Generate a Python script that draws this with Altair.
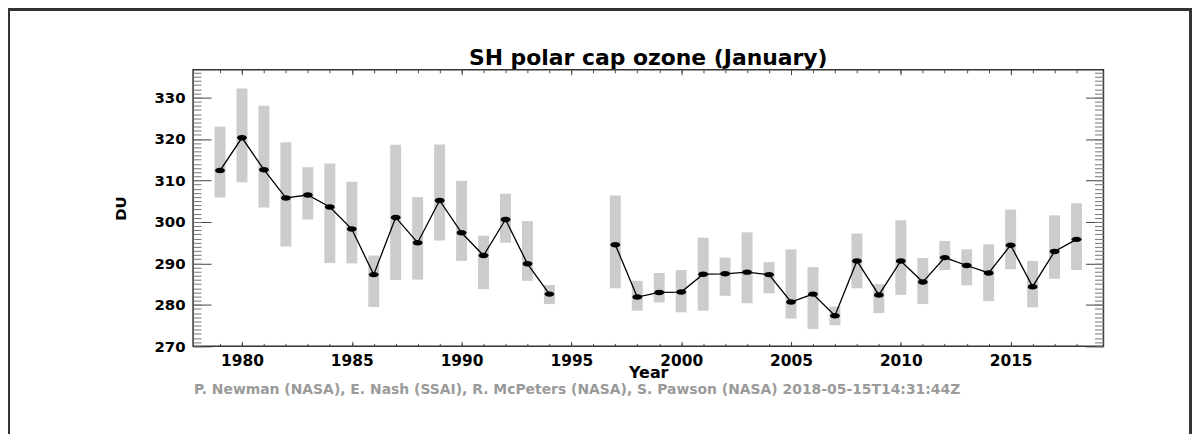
import altair as alt
import pandas as pd

# ---- data ----
years = list(range(1979, 1995)) + list(range(1997, 2019))
mean_du = [312.4, 320.3, 312.6, 305.8, 306.5, 303.6, 298.3, 287.3, 301.1, 295.0,
           305.2, 297.4, 291.9, 300.6, 289.9, 282.6,
           294.5, 281.9, 283.0, 283.1, 287.4, 287.5, 287.9, 287.3, 280.7, 282.6,
           277.4, 290.6, 282.4, 290.6, 285.5, 291.4, 289.5, 287.7, 294.4, 284.4,
           292.9, 295.8]
low_du = [305.9, 309.6, 303.5, 294.1, 300.6, 290.1, 290.0, 279.5, 286.0, 286.1,
          295.5, 290.6, 283.8, 295.0, 285.8, 280.2,
          284.0, 278.6, 280.6, 278.2, 278.6, 282.2, 280.4, 282.8, 276.7, 274.2,
          275.1, 284.0, 278.0, 282.4, 280.2, 288.4, 284.7, 280.9, 288.6, 279.4,
          286.3, 288.4]
high_du = [323.0, 332.2, 328.0, 319.2, 313.2, 314.1, 309.7, 291.9, 318.6, 306.0,
           318.7, 309.9, 296.7, 306.8, 300.2, 284.8,
           306.4, 285.8, 287.7, 288.4, 296.2, 291.4, 297.5, 290.3, 293.4, 289.1,
           279.6, 297.2, 285.0, 300.4, 291.3, 295.4, 293.4, 294.6, 303.0, 290.6,
           301.6, 304.5]

x_major = [1980, 1985, 1990, 1995, 2000, 2005, 2010, 2015]
x_minor = list(range(1979, 2019))
y_major = [270, 280, 290, 300, 310, 320, 330]
y_minor = list(range(270, 337))

title_txt = "SH polar cap ozone (January)"
footer_txt = ("P. Newman (NASA), E. Nash (SSAI), R. McPeters (NASA), "
              "S. Pawson (NASA)  2018-05-15T14:31:44Z")

df = pd.DataFrame({"year": years, "mean": mean_du, "lo": low_du, "hi": high_du})

W, H = 915, 278
FONT = "DejaVu Sans"
xscale = alt.Scale(domain=[1978, 2019], nice=False, zero=False)
yscale = alt.Scale(domain=[270, 336.7], nice=False, zero=False)


def tick_axis(orient, values, size, color="#444"):
    return alt.Axis(orient=orient, values=values, offset=-size, tickSize=size,
                    tickColor=color, tickWidth=1, labels=False, domain=False,
                    grid=False, title=None)


x_bottom = alt.Axis(orient="bottom", values=x_major, offset=-5, tickSize=5,
                    tickColor="#444", domain=False, grid=False, format="d",
                    labelFont=FONT, labelFontSize=15.5, labelFontWeight="bold",
                    labelColor="black", labelPadding=7,
                    title="Year", titleFont=FONT, titleFontSize=16,
                    titleFontWeight="bold", titleColor="black",
                    titleX=W / 2, titleY=36, titleAlign="center",
                    titleBaseline="alphabetic")
y_left = alt.Axis(orient="left", values=y_major, offset=-18, tickSize=18,
                  tickColor="#444", domain=False, grid=False, format="d",
                  labelFont=FONT, labelFontSize=15, labelFontWeight="bold",
                  labelColor="black", labelPadding=8,
                  title="DU", titleFont=FONT, titleFontSize=15,
                  titleFontWeight="bold", titleColor="black",
                  titleX=-91, titleY=H / 2, titleAngle=270, titleAlign="center",
                  titleBaseline="middle")

base = alt.Chart(df)

bars = base.mark_bar(size=11, color="#cccccc").encode(
    x=alt.X("year:Q", scale=xscale, axis=x_bottom),
    y=alt.Y("lo:Q", scale=yscale, axis=y_left),
    y2="hi:Q",
)

line = base.transform_calculate(seg="datum.year > 1995 ? 1 : 0").mark_line(
    color="black", strokeWidth=1.3
).encode(
    x=alt.X("year:Q", scale=xscale, axis=tick_axis("bottom", x_minor, 3)),
    y=alt.Y("mean:Q", scale=yscale, axis=tick_axis("left", y_minor, 8, "#777")),
    detail="seg:N",
)

ellipse = ("M-1,0 C-1,-0.304 -0.552,-0.55 0,-0.55 C0.552,-0.55 1,-0.304 1,0 "
           "C1,0.304 0.552,0.55 0,0.55 C-0.552,0.55 -1,0.304 -1,0 Z")
points = base.mark_point(shape=ellipse, filled=True, size=100, color="black",
                         opacity=1).encode(
    x=alt.X("year:Q", scale=xscale, axis=tick_axis("top", x_major, 5)),
    y=alt.Y("mean:Q", scale=yscale, axis=tick_axis("right", y_major, 18)),
)

ghost = base.mark_point(opacity=0).encode(
    x=alt.X("year:Q", scale=xscale, axis=tick_axis("top", x_minor, 3)),
    y=alt.Y("mean:Q", scale=yscale, axis=tick_axis("right", y_minor, 9, "#777")),
)

one = alt.Data(values=[{"k": 1}])

border = alt.Chart(one).mark_rect(filled=False, stroke="#333", strokeWidth=3).encode(
    x=alt.value(-185.5), x2=alt.value(1002.5), y=alt.value(-60.5), y2=alt.value(420)
)

title = alt.Chart(one).mark_text(
    text=title_txt, font=FONT, fontSize=22, fontWeight="bold", color="black",
    align="center", baseline="alphabetic"
).encode(x=alt.value(W / 2), y=alt.value(-5))

footer = alt.Chart(one).mark_text(
    text=footer_txt, font=FONT, fontSize=14, fontWeight="bold", color="#9a9a9a",
    align="left", baseline="alphabetic"
).encode(x=alt.value(1), y=alt.value(326))

chart = alt.layer(border, bars, line, points, ghost, title, footer).resolve_axis(
    x="independent", y="independent"
).properties(
    width=W, height=H,
    padding={"left": 186, "top": 61, "right": 90, "bottom": 87},
    autosize=alt.AutoSizeParams(type="none"),
    background="white",
).configure_view(stroke="#333", strokeWidth=1.5)

chart.save("out.html", embed_options={"renderer": "svg", "actions": False})
